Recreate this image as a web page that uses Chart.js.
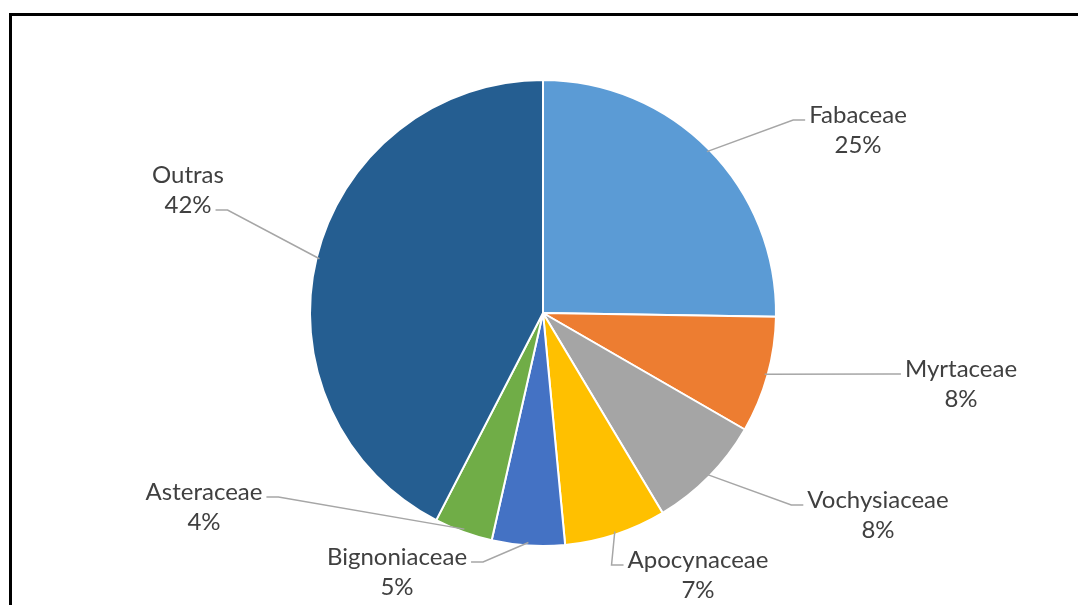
<!DOCTYPE html>
<html>
<head>
<meta charset="utf-8">
<script src="https://cdn.jsdelivr.net/npm/chart.js@4"></script>
<style>
    html, body { margin: 0; padding: 0; background: #fff; }
    #wrap { position: relative; width: 1078px; height: 605px; }
    #frame {
        position: absolute; left: 9px; top: 13px; right: 0; bottom: 0;
        border-top: 3px solid #000; border-left: 3px solid #000;
        pointer-events: none;
    }
    canvas { position: absolute; left: 0; top: 0; }
</style>
</head>
<body>
<div id="wrap">
    <canvas id="pie" width="1078" height="605"></canvas>
    <div id="frame"></div>
</div>
<script>
const families = ['Fabaceae', 'Myrtaceae', 'Vochysiaceae', 'Apocynaceae', 'Bignoniaceae', 'Asteraceae', 'Outras'];
const shares = [25, 8, 8, 7, 5, 4, 42];
const sliceColors = ['#5B9BD5', '#ED7D31', '#A5A5A5', '#FFC000', '#4472C4', '#70AD47', '#255E91'];

// label placement: text centre and first baseline, relative to the pie centre
const labelOffsets = [
    [315, -190], [418, 64], [335, 195], [155, 255],
    [-146, 252], [-339, 187], [-355, -130]
];
// which side of the text the leader line joins, and on which text row
const labelSide = ['left', 'left', 'left', 'left', 'right', 'right', 'right'];
const labelRow = [0, 0, 0, 0, 0, 0, 1];

const labelFont = '24px Lato';
const lineGap = 30;

const leaderLines = {
    id: 'leaderLines',
    afterDatasetsDraw(chart) {
        const ctx = chart.ctx;
        const arcs = chart.getDatasetMeta(0).data;
        ctx.save();
        ctx.font = labelFont;
        arcs.forEach((arc, i) => {
            const p = arc.getProps(['x', 'y', 'startAngle', 'endAngle', 'outerRadius'], true);
            const mid = (p.startAngle + p.endAngle) / 2;
            const ax = p.x + Math.cos(mid) * (p.outerRadius - 3);
            const ay = p.y + Math.sin(mid) * (p.outerRadius - 3);

            const tx = p.x + labelOffsets[i][0];
            const ty = p.y + labelOffsets[i][1];
            const rows = [families[i], shares[i] + '%'];
            const w = ctx.measureText(rows[labelRow[i]]).width;
            const jy = ty + labelRow[i] * lineGap - 3;
            let jx, ex;
            if (labelSide[i] === 'left') {
                jx = tx - w / 2 - 4;
                ex = jx - 12;
            } else {
                jx = tx + w / 2 + 4;
                ex = jx + 12;
            }

            ctx.strokeStyle = '#A6A6A6';
            ctx.lineWidth = 1.5;
            ctx.beginPath();
            ctx.moveTo(ax, ay);
            ctx.lineTo(ex, jy);
            ctx.lineTo(jx, jy);
            ctx.stroke();

            ctx.fillStyle = '#404040';
            ctx.textAlign = 'center';
            ctx.textBaseline = 'alphabetic';
            rows.forEach((r, k) => ctx.fillText(r, tx, ty + k * lineGap));
        });
        ctx.restore();
    }
};

const chart = new Chart(document.getElementById('pie').getContext('2d'), {
    type: 'pie',
    data: {
        labels: families,
        datasets: [{
            data: shares,
            backgroundColor: sliceColors,
            borderColor: '#ffffff',
            borderWidth: 2
        }]
    },
    options: {
        responsive: false,
        animation: false,
        layout: { padding: { top: 79, bottom: 58, left: 8, right: 0 } },
        plugins: {
            legend: { display: false },
            tooltip: { enabled: false }
        }
    },
    plugins: [leaderLines]
});
</script>
</body>
</html>
